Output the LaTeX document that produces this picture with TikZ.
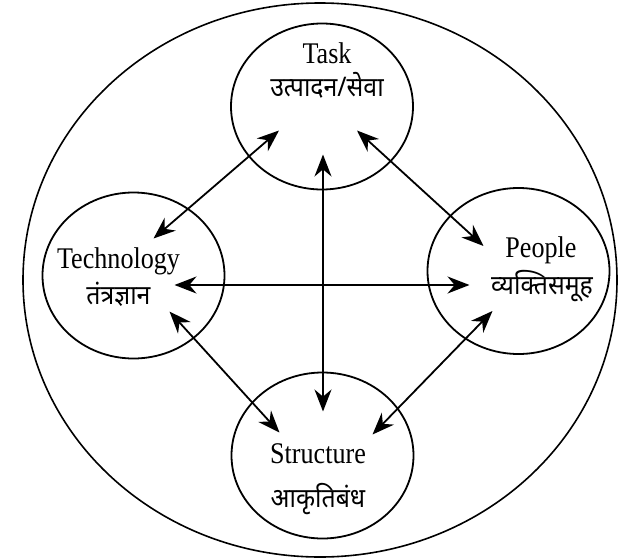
\documentclass[tikz,border=0pt]{standalone}
\usepackage{fontspec}
\setmainfont[FakeStretch=0.87]{Liberation Serif}
\newfontfamily\deva[Script=Devanagari,FakeStretch=0.92]{Noto Sans}
\usetikzlibrary{arrows.meta,shapes.geometric,calc}

\tikzset{
  part/.style={draw,ellipse,line width=1.8pt,minimum width=182pt,minimum height=166pt,inner sep=0pt},
  en/.style={anchor=base,inner sep=0pt,font=\fontsize{30}{34}\selectfont},
  hi/.style={anchor=base,inner sep=0pt,font=\deva\fontsize{27}{32}\selectfont},
  link/.style={line width=1.8pt,{Stealth[length=22pt,width=17pt]}-{Stealth[length=22pt,width=17pt]}}
}

\begin{document}
\begin{tikzpicture}[x=1pt,y=-1pt]
\useasboundingbox (0,0) rectangle (619,560);
\draw[line width=1.6pt] (320,280) ellipse (297pt and 277pt);
\node[part] (task) at (322,106.5) {};
\node[part] (tech) at (133.5,275.5) {};
\node[part] (people) at (518.5,271) {};
\node[part] (struct) at (322.5,455.5) {};
\node[en] (task-en) at (327,63) {Task};
\node[hi] (task-hi) at (327,96) {उत्पादन/सेवा};
\node[en] (tech-en) at (118.5,268) {Technology};
\node[hi] (tech-hi) at (118.5,304) {तंत्रज्ञान};
\node[en] (people-en) at (541,257) {People};
\node[hi] (people-hi) at (542,294) {व्यक्तिसमूह};
\node[en] (struct-en) at (318,463) {Structure};
\node[hi] (struct-hi) at (318,507) {आकृतिबंध};
\draw[link] ($(task)+(-43,24)$) -- ($(tech)+(20,-37)$);
\draw[link] ($(task)+(35,24)$) -- ($(people)+(-35,-25)$);
\draw[link] ($(task)+(1,48)$) -- ($(struct)+(0.5,-44)$);
\draw[link] ($(tech)+(41,9.5)$) -- ($(people)+(-49,14)$);
\draw[link] ($(tech)+(36,36)$) -- ($(struct)+(-43,-23)$);
\draw[link] ($(people)+(-26,40)$) -- ($(struct)+(50,-21)$);
\end{tikzpicture}
\end{document}
